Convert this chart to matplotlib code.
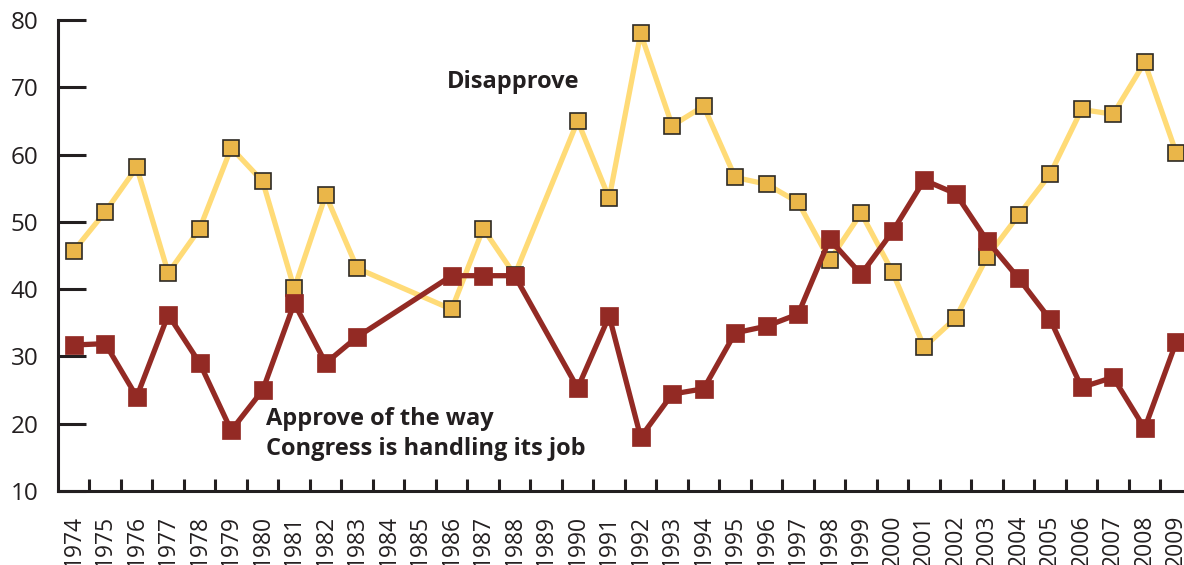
import numpy as np
import matplotlib
matplotlib.use('Agg')
import matplotlib.pyplot as plt

# Survey years (no data for 1984, 1985, 1989)
years = [1974, 1975, 1976, 1977, 1978, 1979, 1980, 1981, 1982, 1983,
         1986, 1987, 1988,
         1990, 1991, 1992, 1993, 1994, 1995, 1996, 1997, 1998, 1999,
         2000, 2001, 2002, 2003, 2004, 2005, 2006, 2007, 2008, 2009]

disapprove = [45.7, 51.5, 58.1, 42.4, 49.0, 61.0, 56.0, 40.1, 54.0, 43.1,
              37.0, 49.0, 42.1,
              65.0, 53.5, 78.0, 64.3, 67.2, 56.6, 55.6, 52.9, 44.3, 51.3,
              42.5, 31.4, 35.7, 44.8, 51.0, 57.1, 66.7, 66.0, 73.7, 60.3]

approve = [31.7, 31.9, 24.0, 36.2, 29.0, 19.0, 25.0, 37.9, 29.0, 32.9,
           42.0, 42.0, 42.0,
           25.3, 36.0, 18.0, 24.4, 25.2, 33.5, 34.5, 36.3, 47.4, 42.2,
           48.6, 56.2, 54.2, 47.2, 41.6, 35.5, 25.4, 26.9, 19.3, 32.1]

tick_years = list(range(1974, 2010))
yticks = [10, 20, 30, 40, 50, 60, 70, 80]

dark = '#231f20'
plt.rcParams['font.family'] = ['Open Sans', 'DejaVu Sans']

fig = plt.figure(figsize=(11.84, 5.65), dpi=100)
ax = fig.add_axes([58 / 1184, 74 / 565, 1 - 58 / 1184, 471 / 565])

# disapprove first, approve drawn on top
ax.plot(years, disapprove, color='#ffdb77', lw=3.8, zorder=2)
ax.plot(years, disapprove, ls='none', marker='s', ms=11.5,
        mfc='#eab649', mec='#2e2a24', mew=1.2, zorder=3)
ax.plot(years, approve, color='#932a24', lw=3.8, marker='s', ms=12.5,
        mfc='#932a24', mec='#932a24', mew=0.5, zorder=4)

ax.text(1985.85, 70.8, 'Disapprove', fontsize=17, fontweight='bold',
        color=dark, va='center', ha='left')
ax.text(1980.1, 18.5, 'Approve of the way\nCongress is handling its job',
        fontsize=17, fontweight='bold', color=dark, va='center', ha='left',
        linespacing=1.3)

ax.set_xlim(1973.5, 2009.25)
ax.set_ylim(10, 80)

# year labels under each point, ticks between years
ax.set_xticks(tick_years)
ax.set_xticklabels([str(y) for y in tick_years], rotation=90)
ax.set_xticks(np.arange(1974.5, 2009.5, 1), minor=True)
ax.tick_params(axis='x', which='major', length=0, pad=17, labelsize=16.5,
               labelcolor=dark)
ax.tick_params(axis='x', which='minor', direction='in', length=9, width=2.2,
               color=dark)

ax.set_yticks(yticks)
ax.tick_params(axis='y', direction='in', length=20, width=2.2, color=dark,
               pad=14, labelsize=17.5, labelcolor=dark)

for side in ['top', 'right']:
    ax.spines[side].set_visible(False)
for side in ['left', 'bottom']:
    ax.spines[side].set_linewidth(2.2)
    ax.spines[side].set_color(dark)
    ax.spines[side].set_capstyle('projecting')

fig.savefig('out.png', dpi=100)
